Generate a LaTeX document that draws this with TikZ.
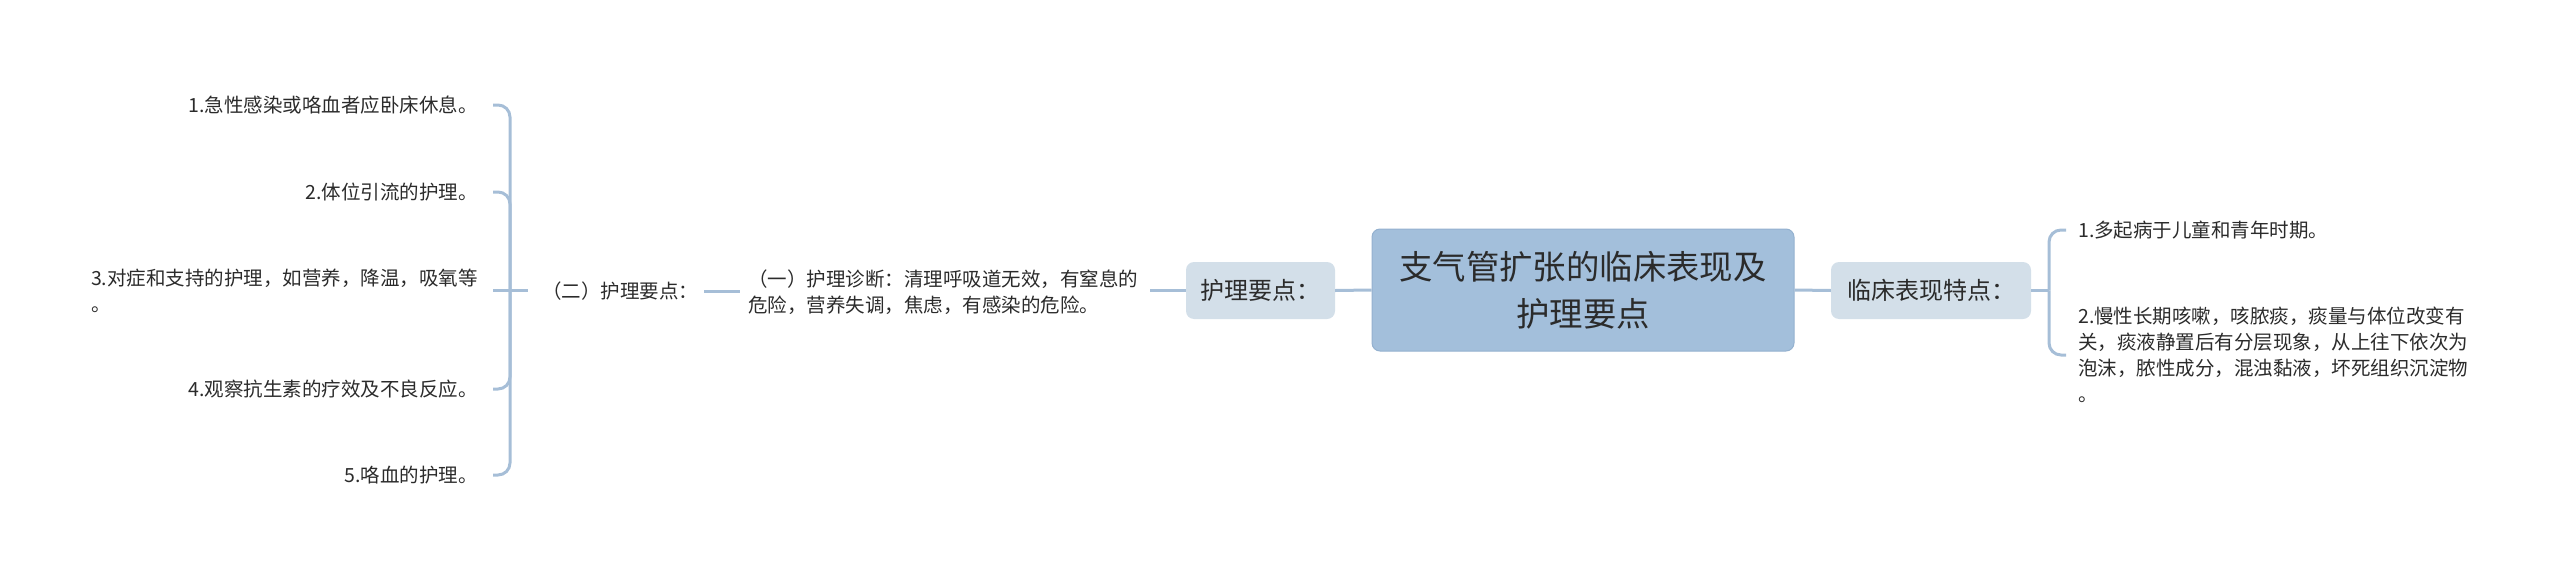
\documentclass[tikz,border=0pt]{standalone}
\usepackage{fontspec}
\setmainfont{Noto Sans CJK SC}
\definecolor{lnc}{HTML}{A6BED7}
\definecolor{mainf}{HTML}{A3BFDB}
\definecolor{maind}{HTML}{94B1CF}
\definecolor{subf}{HTML}{D3DFE9}
\definecolor{txt}{HTML}{2B2B2B}
\begin{document}
\begin{tikzpicture}[x=1pt,y=-1pt,
  conn/.style={draw=lnc, line width=3pt},
  bra/.style={conn, rounded corners=12pt},
  mainbox/.style={draw=maind, line width=1pt, fill=mainf, rounded corners=8pt,
    minimum width=422pt, minimum height=122pt, inner sep=0pt, align=center,
    text=txt, font=\fontsize{33.4}{47}\selectfont},
  subbox/.style={fill=subf, rounded corners=8pt, minimum height=57pt, inner sep=0pt,
    text=txt, font=\fontsize{24}{30}\selectfont},
  leaf/.style={inner sep=0pt, align=left, text=txt, font=\fontsize{19.5}{26}\selectfont}]
\useasboundingbox (0,0) rectangle (2560,581);

\node[mainbox] (root) at (1583,290) {支气管扩张的临床表现及\\护理要点};
\node[subbox, minimum width=149pt] (hl) at (1260.5,290.5) {护理要点：};
\node[subbox, minimum width=200pt] (lc) at (1931,290.5) {临床表现特点：};

\node[leaf, anchor=west] (t1) at (748,292) {（一）护理诊断：清理呼吸道无效，有窒息的\\危险，营养失调，焦虑，有感染的危险。};
\node[leaf, anchor=west] (t2) at (542,291) {（二）护理要点：};

\node[leaf, anchor=east] (l1) at (478,105) {1.急性感染或咯血者应卧床休息。};
\node[leaf, anchor=east] (l2) at (478,192) {2.体位引流的护理。};
\node[leaf, anchor=east] (l3) at (478,290.5) {3.对症和支持的护理，如营养，降温，吸氧等\\。};
\node[leaf, anchor=east] (l4) at (478,389) {4.观察抗生素的疗效及不良反应。};
\node[leaf, anchor=east] (l5) at (478,475) {5.咯血的护理。};

\node[leaf, anchor=west] (r1) at (2078,230) {1.多起病于儿童和青年时期。};
\node[leaf, anchor=west] (r2) at (2078,355) {2.慢性长期咳嗽，咳脓痰，痰量与体位改变有\\关，痰液静置后有分层现象，从上往下依次为\\泡沫，脓性成分，混浊黏液，坏死组织沉淀物\\。};

\coordinate (jl) at (510,290.5);
\coordinate (jr) at (2049,290.5);

\draw[conn] (root.west) -- (hl.east);
\draw[conn] (root.east) -- (lc.west);
\draw[conn, shorten >=12pt] (hl.west) -- (hl.west -| t1.east);
\draw[conn, shorten <=6pt, shorten >=8pt] (t2.east) -- (t2.east -| t1.west);
\draw[conn, shorten >=14pt] ([xshift=15pt]l3.east) -- (jl) -- (jl -| t2.west);
\draw[bra] (jl) |- ([xshift=15pt]l1.east);
\draw[bra] (jl) |- ([xshift=15pt]l2.east);
\draw[bra] (jl) |- ([xshift=15pt]l4.east);
\draw[bra] (jl) |- ([xshift=15pt]l5.east);

\draw[conn] (lc.east) -- (jr);
\draw[bra] (jr) |- ([xshift=-12pt]r1.west);
\draw[bra] (jr) |- ([xshift=-12pt]r2.west);
\end{tikzpicture}
\end{document}
